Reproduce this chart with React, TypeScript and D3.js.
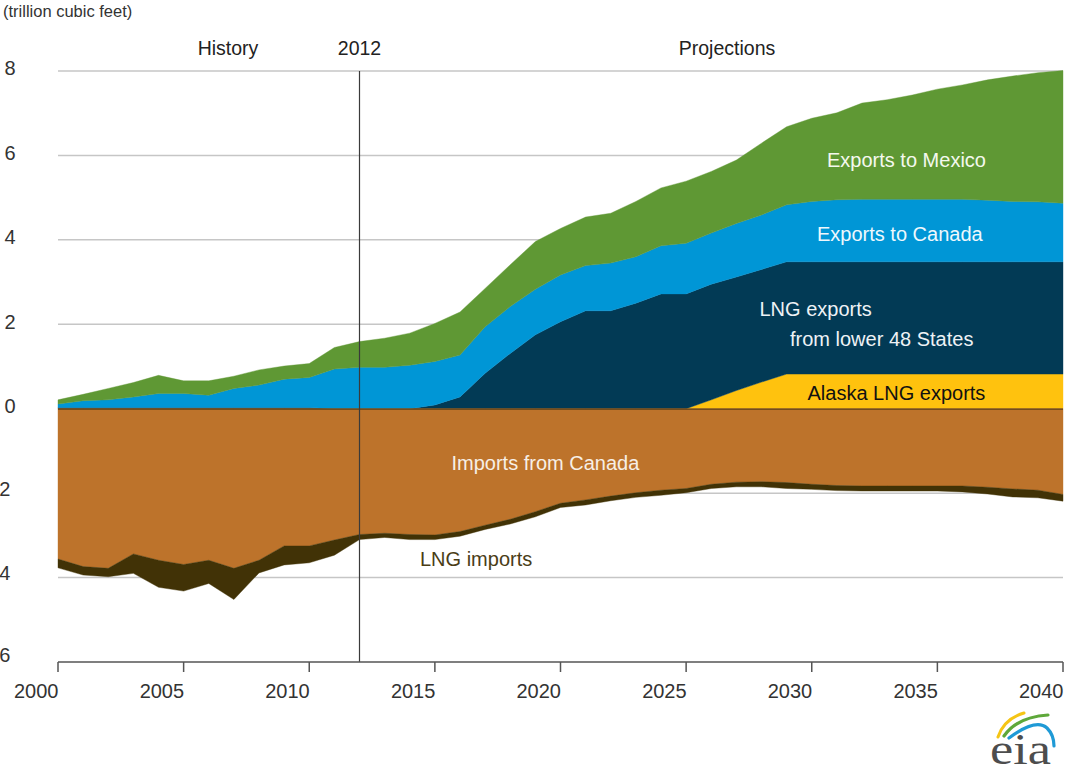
import React from "react";
import * as d3 from "d3";

const years = [
  2000, 2001, 2002, 2003, 2004, 2005, 2006, 2007, 2008, 2009,
  2010, 2011, 2012, 2013, 2014, 2015, 2016, 2017, 2018, 2019,
  2020, 2021, 2022, 2023, 2024, 2025, 2026, 2027, 2028, 2029,
  2030, 2031, 2032, 2033, 2034, 2035, 2036, 2037, 2038, 2039, 2040,
];

// trillion cubic feet (exports positive, imports negative)
const alaskaLng = [
  0, 0, 0, 0, 0, 0, 0, 0, 0, 0,
  0, 0, 0, 0, 0, 0, 0, 0, 0, 0,
  0, 0, 0, 0, 0, 0, 0.21, 0.43, 0.63, 0.82,
  0.82, 0.82, 0.82, 0.82, 0.82, 0.82, 0.82, 0.82, 0.82, 0.82, 0.82,
];
const lower48Lng = [
  0.03, 0.03, 0.03, 0.03, 0.03, 0.03, 0.03, 0.03, 0.03, 0.03,
  0.03, 0, 0, 0, 0, 0.09, 0.28, 0.84, 1.31, 1.75,
  2.06, 2.32, 2.32, 2.5, 2.72, 2.72, 2.74, 2.69, 2.67, 2.66,
  2.66, 2.66, 2.66, 2.66, 2.66, 2.66, 2.66, 2.66, 2.66, 2.66, 2.66,
];
const exportsCanada = [
  0.08, 0.16, 0.18, 0.25, 0.33, 0.33, 0.29, 0.45, 0.53, 0.67,
  0.71, 0.94, 0.98, 0.98, 1.03, 1.03, 0.99, 1.1, 1.11, 1.08,
  1.11, 1.07, 1.13, 1.1, 1.14, 1.2, 1.21, 1.27, 1.29, 1.35,
  1.43, 1.47, 1.48, 1.48, 1.48, 1.48, 1.48, 1.46, 1.43, 1.42, 1.39,
];
const exportsMexico = [
  0.1, 0.15, 0.27, 0.34, 0.43, 0.3, 0.34, 0.29, 0.36, 0.31,
  0.33, 0.51, 0.61, 0.69, 0.76, 0.9, 1.02, 0.91, 0.99, 1.13,
  1.1, 1.15, 1.18, 1.31, 1.37, 1.47, 1.46, 1.5, 1.7, 1.85,
  1.97, 2.06, 2.28, 2.36, 2.47, 2.61, 2.71, 2.85, 2.97, 3.06, 3.14,
];
const importsCanada = [
  -3.56, -3.74, -3.78, -3.44, -3.59, -3.69, -3.59, -3.78, -3.59, -3.25,
  -3.25, -3.11, -2.98, -2.95, -2.98, -2.99, -2.91, -2.76, -2.62, -2.44,
  -2.24, -2.16, -2.07, -1.99, -1.93, -1.89, -1.79, -1.74, -1.73, -1.75,
  -1.79, -1.82, -1.83, -1.83, -1.83, -1.83, -1.83, -1.86, -1.9, -1.93, -2.03,
];
const lngImports = [
  -0.21, -0.2, -0.2, -0.46, -0.64, -0.63, -0.55, -0.74, -0.3, -0.45,
  -0.4, -0.36, -0.12, -0.1, -0.12, -0.11, -0.11, -0.1, -0.11, -0.12,
  -0.1, -0.12, -0.11, -0.11, -0.12, -0.1, -0.1, -0.11, -0.12, -0.14,
  -0.12, -0.12, -0.12, -0.12, -0.12, -0.12, -0.14, -0.16, -0.19, -0.18, -0.16,
];

const seriesKeys = ["alaska", "lower48", "canada", "mexico", "impCanada", "lngImp"];
const seriesColors: Record<string, string> = {
  alaska: "#ffc20e",
  lower48: "#023a55",
  canada: "#0096d6",
  mexico: "#5f9834",
  impCanada: "#bd732b",
  lngImp: "#413206",
};

const yTicks = [8, 6, 4, 2, 0, -2, -4, -6];
const gridValues = [8, 6, 4, 2, -2, -4];
const xTicks = [2000, 2005, 2010, 2015, 2020, 2025, 2030, 2035, 2040];

const W = 1065;
const H = 769;
const FONT = "'Liberation Sans', Arial, sans-serif";

export default function App() {
  const x = d3.scaleLinear().domain([2000, 2040]).range([58, 1063]);
  const y = d3.scaleLinear().domain([-6, 8]).range([662, 71]);

  const rows = years.map((yr, i) => ({
    year: yr,
    alaska: alaskaLng[i],
    lower48: lower48Lng[i],
    canada: exportsCanada[i],
    mexico: exportsMexico[i],
    impCanada: importsCanada[i],
    lngImp: lngImports[i],
  }));

  const stacked = d3
    .stack<any>()
    .keys(seriesKeys)
    .offset(d3.stackOffsetDiverging)(rows);

  const area = d3
    .area<any>()
    .x((d) => x(d.data.year))
    .y0((d) => y(d[0]))
    .y1((d) => y(d[1]));

  const txt = { fontFamily: FONT } as React.CSSProperties;

  return (
    <svg
      width={W}
      height={H}
      style={{ position: "absolute", left: 0, top: 0, background: "#fff" }}
    >
      <rect x={0} y={0} width={W} height={H} fill="#fff" />
      {/* grid */}
      {gridValues.map((v) => (
        <line
          key={v}
          x1={x(2000)}
          x2={x(2040)}
          y1={y(v)}
          y2={y(v)}
          stroke="#c6c6c6"
          strokeWidth={1.5}
        />
      ))}
      {/* areas */}
      {stacked.map((s) => (
        <path
          key={s.key}
          d={area(s as any) || ""}
          fill={seriesColors[s.key]}
          stroke={seriesColors[s.key]}
          strokeWidth={0.4}
        />
      ))}
      {/* zero line */}
      <line
        x1={x(2000)}
        x2={x(2040)}
        y1={y(0) + 0.5}
        y2={y(0) + 0.5}
        stroke="#5e3f17"
        strokeWidth={1.3}
      />
      {/* 2012 divider */}
      <line
        x1={x(2012)}
        x2={x(2012)}
        y1={y(8)}
        y2={y(-6)}
        stroke="#3a3a3a"
        strokeWidth={1.2}
      />
      {/* x axis */}
      <line
        x1={x(2000)}
        x2={x(2040)}
        y1={y(-6)}
        y2={y(-6)}
        stroke="#555"
        strokeWidth={1.5}
      />
      {xTicks.map((t) => (
        <g key={t}>
          <line
            x1={x(t)}
            x2={x(t)}
            y1={y(-6)}
            y2={y(-6) + 10}
            stroke="#555"
            strokeWidth={1.5}
          />
          <text
            x={x(t) + 0.5}
            y={698}
            textAnchor="end"
            fontSize={20}
            fill="#333"
            style={txt}
          >
            {t}
          </text>
        </g>
      ))}
      {/* y labels */}
      {yTicks.map((t) => (
        <text
          key={t}
          x={t < 0 ? 10.5 : 15.5}
          y={y(t) + (t === -6 ? 0 : t < 0 ? 2.5 : 4.3)}
          textAnchor="end"
          fontSize={20}
          fill="#333"
          style={txt}
        >
          {t}
        </text>
      ))}
      {/* titles */}
      <text x={3} y={16.5} fontSize={16.5} fill="#333" style={txt}>
        (trillion cubic feet)
      </text>
      <text x={228} y={55} textAnchor="middle" fontSize={19.5} fill="#222" style={txt}>
        History
      </text>
      <text x={x(2012)} y={55} textAnchor="middle" fontSize={19.5} fill="#222" style={txt}>
        2012
      </text>
      <text x={727} y={55} textAnchor="middle" fontSize={19.5} fill="#222" style={txt}>
        Projections
      </text>
      {/* series labels */}
      <text x={827} y={166.5} fontSize={20} fill="#f4f8ee" style={txt}>
        Exports to Mexico
      </text>
      <text x={817} y={240.5} fontSize={20} fill="#eef8fd" style={txt}>
        Exports to Canada
      </text>
      <text x={759.5} y={316} fontSize={20} fill="#eef2f5" style={txt}>
        LNG exports
      </text>
      <text x={790} y={346} fontSize={20} fill="#eef2f5" style={txt}>
        from lower 48 States
      </text>
      <text x={807.5} y={399.5} fontSize={20} fill="#111" style={txt}>
        Alaska LNG exports
      </text>
      <text x={451.5} y={469.5} fontSize={20} fill="#f7efe6" style={txt}>
        Imports from Canada
      </text>
      <text x={420} y={566} fontSize={20} fill="#4a3d16" style={txt}>
        LNG imports
      </text>
      {/* eia logo */}
      <g>
        <path
          d="M998 737 Q1004 719 1024 713"
          fill="none"
          stroke="#f5c515"
          strokeWidth={3}
          strokeLinecap="round"
        />
        <path
          d="M1004 736 Q1017 717 1048 715"
          fill="none"
          stroke="#5ea83a"
          strokeWidth={3.2}
          strokeLinecap="round"
        />
        <path
          d="M1009 738 Q1036 718 1047 728 Q1054 735 1054 746"
          fill="none"
          stroke="#1f9ad6"
          strokeWidth={3.2}
          strokeLinecap="round"
        />
        <text
          x={990}
          y={764}
          fontSize={44}
          fill="#4d4d4d"
          textLength={61}
          lengthAdjust="spacingAndGlyphs"
          style={{ fontFamily: "'Liberation Serif', 'Times New Roman', serif" }}
        >
          eia
        </text>
      </g>
    </svg>
  );
}
